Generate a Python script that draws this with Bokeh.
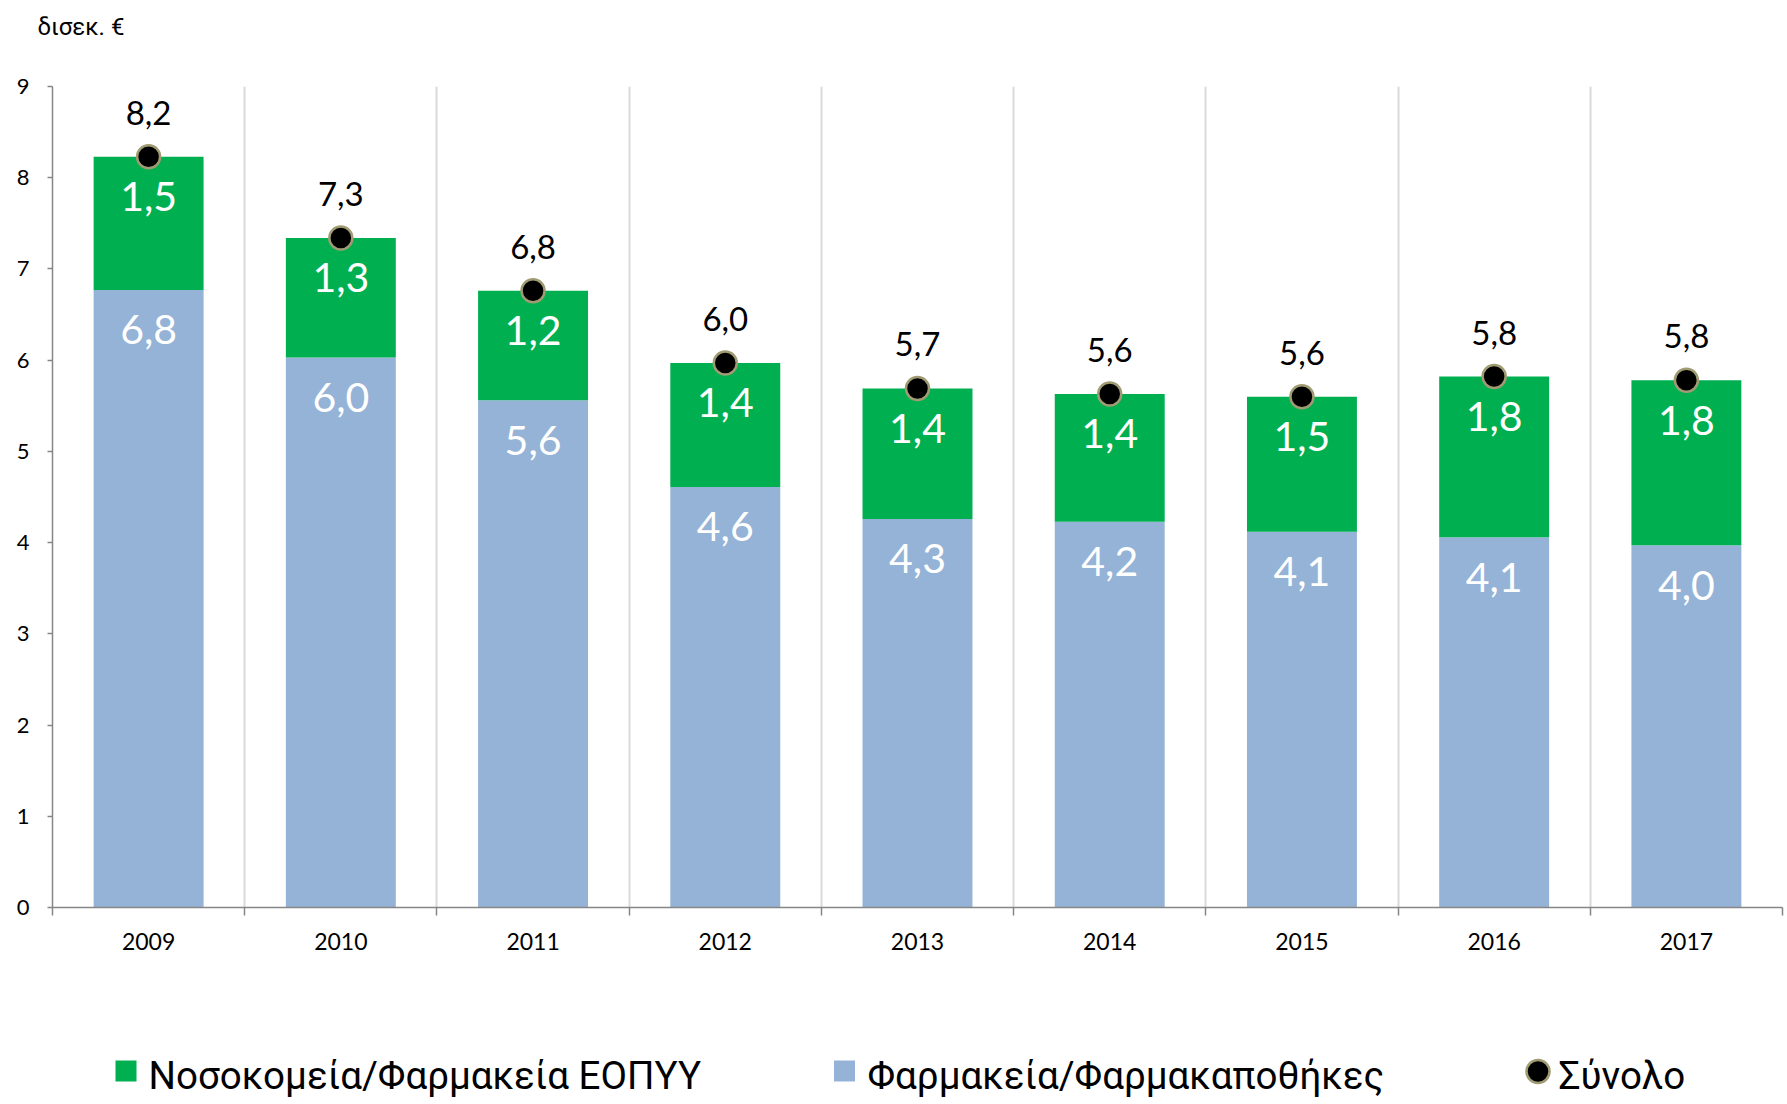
from bokeh.plotting import figure
from bokeh.models import ColumnDataSource, FixedTicker, CustomJSTickFormatter, Range1d
from bokeh.layouts import column
from bokeh.embed import file_html
from bokeh.resources import INLINE
from bokeh.core.properties import value

# ---------------- data ----------------
years = ["2009", "2010", "2011", "2012", "2013", "2014", "2015", "2016", "2017"]
pharmacies = [6.77, 6.03, 5.56, 4.61, 4.26, 4.23, 4.12, 4.06, 3.97]   # Φαρμακεία/Φαρμακαποθήκες
hospitals = [1.46, 1.31, 1.20, 1.36, 1.43, 1.40, 1.48, 1.76, 1.81]    # Νοσοκομεία/Φαρμακεία ΕΟΠΥΥ
y_ticks = [0, 1, 2, 3, 4, 5, 6, 7, 8, 9]
series_names = ["Νοσοκομεία/Φαρμακεία ΕΟΠΥΥ", "Φαρμακεία/Φαρμακαποθήκες", "Σύνολο"]
unit_label = "δισεκ. €"

GREEN = "#00B050"
BLUE = "#95B3D7"
AXIS = "#868686"
GRID = "#D9D9D9"
DOT_EDGE = "#A09B72"

def fmt(v):
    return f"{v:.1f}".replace(".", ",")

totals = [a + b for a, b in zip(pharmacies, hospitals)]
xs = [i + 0.5 for i in range(len(years))]

src = ColumnDataSource(dict(
    x=xs, pharm=pharmacies, hosp=hospitals, total=totals,
    pharm_lbl=[fmt(v) for v in pharmacies],
    hosp_lbl=[fmt(v) for v in hospitals],
    total_lbl=[fmt(v) for v in totals],
))

# ---------------- layout constants (pixels) ----------------
W = 1787
BL, BR = 52, 5          # left / right borders -> frame 52..1782
TOP_H = 66
BT, FH, BB = 20, 821, 83
MAIN_H = BT + FH + BB   # 924
LEG_H = 113

# ---------------- top strip: unit label as title ----------------
tf = figure(width=W, height=TOP_H, x_range=Range1d(0, 1), y_range=Range1d(0, 1),
            output_backend="svg", toolbar_location=None,
            min_border_left=BL, min_border_right=BR, min_border_top=47, min_border_bottom=0)
tf.axis.visible = False
tf.grid.grid_line_color = None
tf.outline_line_color = None
tf.title.text = unit_label
tf.title.align = "left"
tf.title.offset = -15
tf.title.standoff = 10
tf.title.text_font = "Roboto"
tf.title.text_font_size = "24px"
tf.title.text_font_style = "normal"
tf.title.text_color = "black"
tf.title.text_line_height = 1.0
tf.title.vertical_align = "top"

# ---------------- main chart ----------------
p = figure(width=W, height=MAIN_H, x_range=Range1d(0, 9), y_range=Range1d(0, 9),
           output_backend="svg", toolbar_location=None,
           min_border_left=BL, min_border_right=BR, min_border_top=BT, min_border_bottom=BB)
p.outline_line_color = None
p.background_fill_color = "white"

p.vbar(x="x", width=0.572, bottom=0, top="pharm", source=src,
       fill_color=BLUE, line_color=None)
p.vbar(x="x", width=0.572, bottom="pharm", top="total", source=src,
       fill_color=GREEN, line_color=None)
p.scatter(x="x", y="total", source=src, size=23, fill_color="black",
          line_color=DOT_EDGE, line_width=2.5)

p.text(x="x", y="total", text="total_lbl", source=src, y_offset=-44,
       text_align="center", text_baseline="middle", text_font=value("Lato"),
       text_font_size="33px", text_color="black")
p.text(x="x", y="total", text="hosp_lbl", source=src, y_offset=40,
       text_align="center", text_baseline="middle", text_font=value("Lato"),
       text_font_size="41px", text_color="white")
p.text(x="x", y="pharm", text="pharm_lbl", source=src, y_offset=40,
       text_align="center", text_baseline="middle", text_font=value("Lato"),
       text_font_size="41px", text_color="white")

# grid
p.ygrid.grid_line_color = None
p.xgrid.ticker = FixedTicker(ticks=list(range(1, len(years) + 1)))
p.xgrid.grid_line_color = GRID
p.xgrid.grid_line_width = 2

# y axis
p.yaxis.ticker = FixedTicker(ticks=y_ticks)
p.yaxis.axis_line_color = AXIS
p.yaxis.axis_line_width = 1.5
p.yaxis.major_tick_line_color = AXIS
p.yaxis.major_tick_line_width = 1.5
p.yaxis.major_tick_out = 5
p.yaxis.major_tick_in = 0
p.yaxis.minor_tick_out = 0
p.yaxis.minor_tick_in = 0
p.yaxis.major_label_standoff = 18
p.yaxis.major_label_text_font = "Lato"
p.yaxis.major_label_text_font_size = "22px"
p.yaxis.major_label_text_color = "black"

# x axis
p.xaxis.ticker = FixedTicker(ticks=xs, minor_ticks=list(range(len(years) + 1)))
p.xaxis.formatter = CustomJSTickFormatter(args=dict(years=years),
                                          code="return years[Math.floor(tick)];")
p.xaxis.axis_line_color = AXIS
p.xaxis.axis_line_width = 1.5
p.xaxis.major_tick_out = 0
p.xaxis.major_tick_in = 0
p.xaxis.minor_tick_out = 8
p.xaxis.minor_tick_in = 0
p.xaxis.minor_tick_line_color = AXIS
p.xaxis.minor_tick_line_width = 1.5
p.xaxis.major_label_standoff = 17
p.xaxis.major_label_text_font = "Lato"
p.xaxis.major_label_text_font_size = "23px"
p.xaxis.major_label_text_color = "black"

# ---------------- legend (page-pixel coordinates) ----------------
top = TOP_H + MAIN_H
lf = figure(width=W, height=LEG_H, x_range=Range1d(BL, W - BR),
            y_range=Range1d(top + LEG_H, top),
            output_backend="svg", toolbar_location=None,
            min_border_left=BL, min_border_right=BR, min_border_top=0, min_border_bottom=0)
lf.axis.visible = False
lf.grid.grid_line_color = None
lf.outline_line_color = None
lf.scatter(x=[125.5, 844], y=[1070.5, 1070.5], marker="square", size=21,
           fill_color=[GREEN, BLUE], line_color=None)
lf.scatter(x=[1537.5], y=[1071], size=23, fill_color="black",
           line_color=DOT_EDGE, line_width=2.5)
lf.text(x=[148, 867, 1558], y=[1075, 1075, 1075], text=series_names,
        text_align="left", text_baseline="middle",
        text_font=value("Roboto"), text_font_size="38.5px", text_color="black")

layout = column(tf, p, lf, spacing=0)
open("out.html", "w").write(file_html(layout, INLINE))
